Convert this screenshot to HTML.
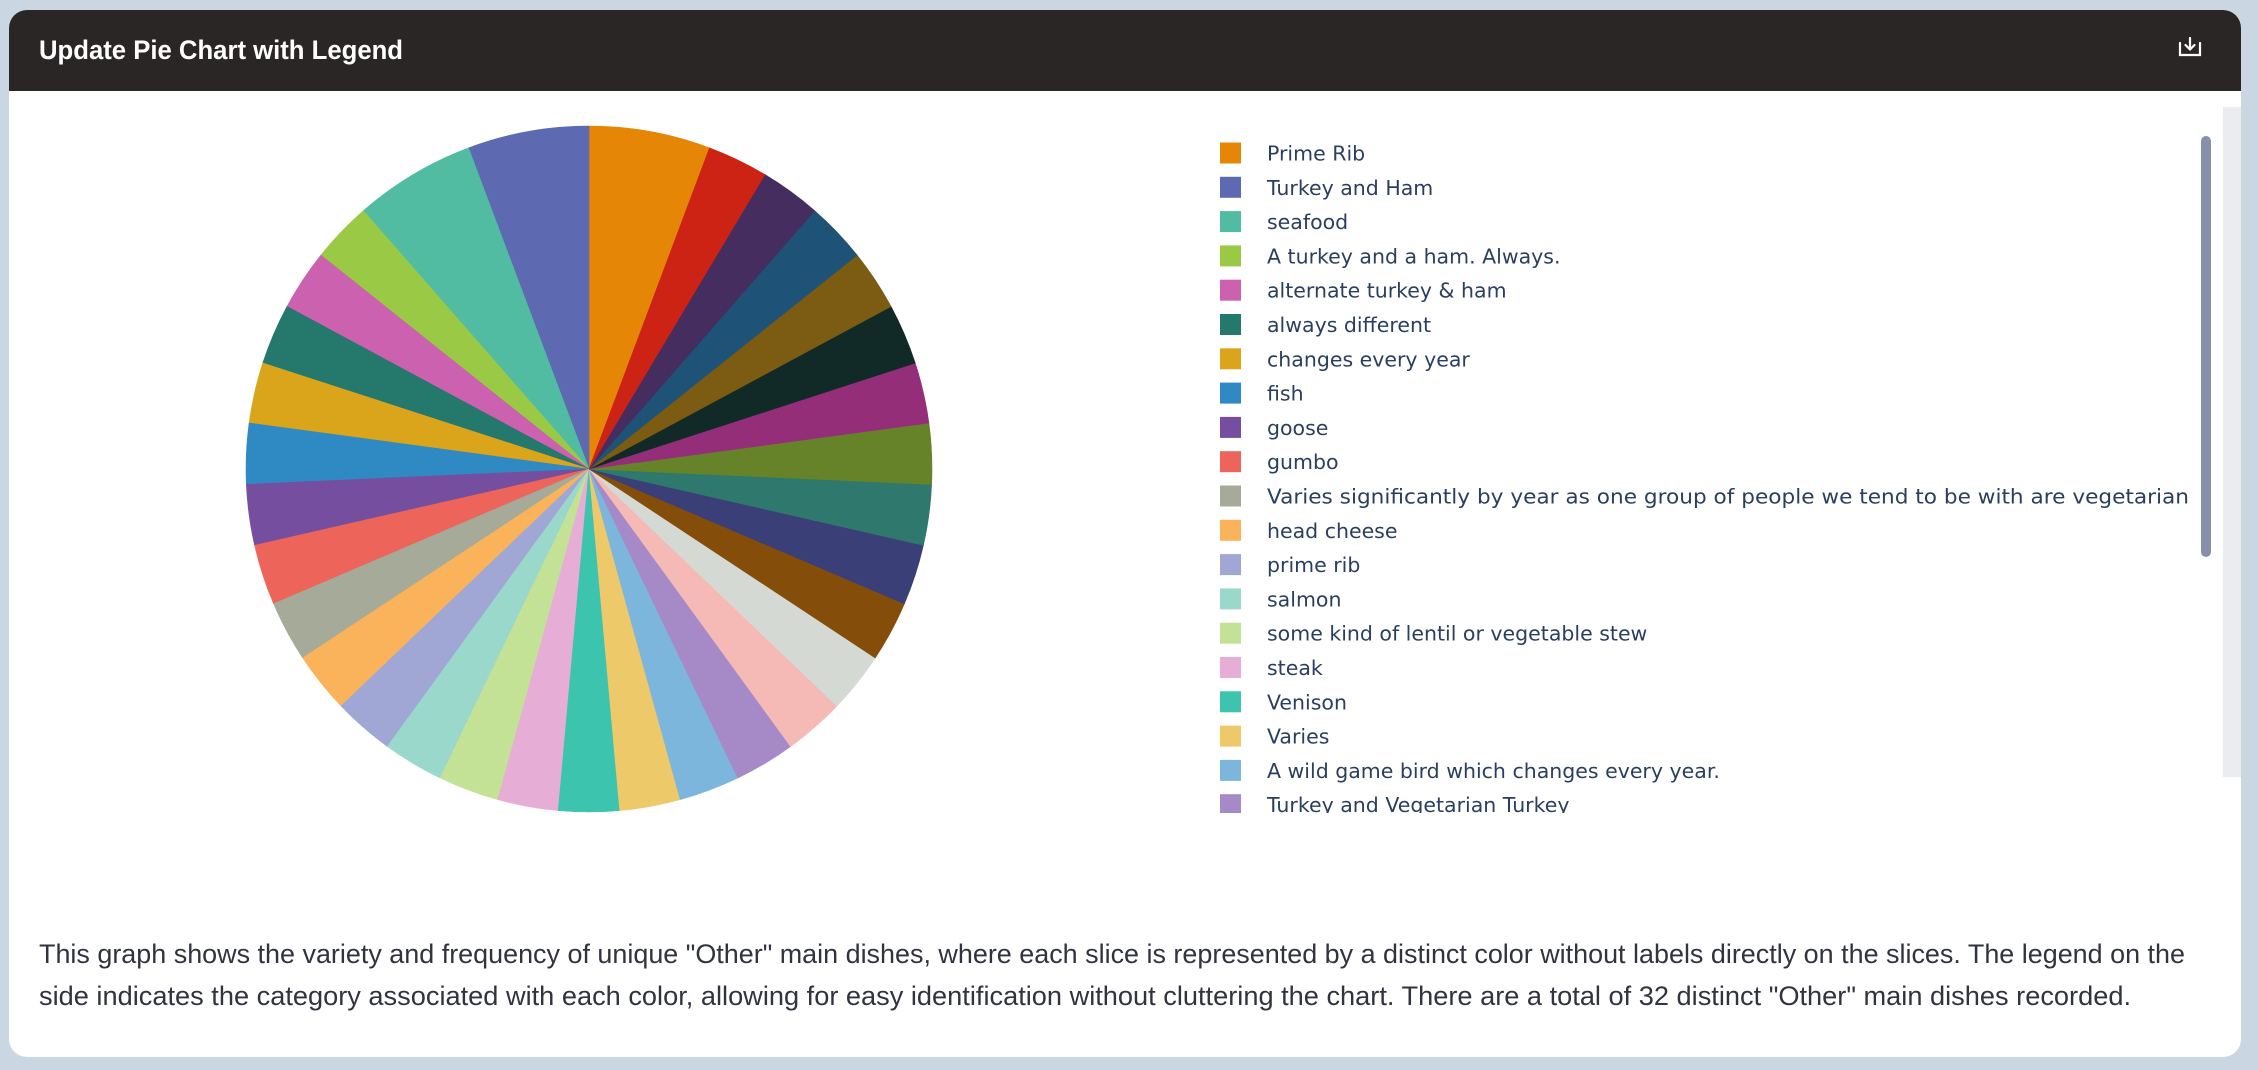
<!DOCTYPE html>
<html><head><meta charset="utf-8"><style>
html,body{margin:0;padding:0;background:#cbd6e3;width:2258px;height:1070px;overflow:hidden}
</style></head><body>
<svg width="2258" height="1070" xmlns="http://www.w3.org/2000/svg" style="position:absolute;left:0;top:0">
<defs><clipPath id="lc"><rect x="1200" y="120" width="1010" height="693"/></clipPath>
<clipPath id="card"><rect x="9" y="10" width="2232" height="1047" rx="18"/></clipPath></defs>
<g clip-path="url(#card)">
<rect x="9" y="10" width="2232" height="1047" fill="#ffffff"/>
<rect x="9" y="10" width="2232" height="81" fill="#2b2626"/>
</g>
<text x="39" y="59" fill="#ffffff" font-family="Liberation Sans, sans-serif" font-weight="bold" font-size="27" textLength="364" lengthAdjust="spacingAndGlyphs">Update Pie Chart with Legend</text>
<g stroke="#fff" stroke-width="2.2" fill="none" stroke-linecap="round">
<path d="M2180 43 v12 h20 v-12"/><path d="M2190 38 v11"/><path d="M2185.5 45 l4.5 4.5 l4.5 -4.5"/>
</g>
<rect x="2223" y="107" width="18" height="670" fill="#eaecef"/>
<rect x="2201" y="136" width="10" height="421" rx="5" fill="#8690a8"/>
<g id="pie"></g>
<g id="leg" clip-path="url(#lc)" font-family="DejaVu Sans, sans-serif" font-size="20.5" fill="#2a3f5f"></g>
<g font-family="Liberation Sans, sans-serif" font-size="27" fill="#31333f">
<text x="39" y="963" textLength="2146" lengthAdjust="spacingAndGlyphs">This graph shows the variety and frequency of unique "Other" main dishes, where each slice is represented by a distinct color without labels directly on the slices. The legend on the</text>
<text x="39" y="1005" textLength="2092" lengthAdjust="spacingAndGlyphs">side indicates the category associated with each color, allowing for easy identification without cluttering the chart. There are a total of 32 distinct "Other" main dishes recorded.</text>
</g>
</svg>
<script>
var items=[["Prime Rib","#E58606",2],["Turkey and Ham","#5D69B1",2],["seafood","#52BCA3",2],["A turkey and a ham. Always.","#99C945",1],["alternate turkey & ham","#CC61B0",1],["always different","#24796C",1],["changes every year","#DAA51B",1],["fish","#2F8AC4",1],["goose","#764E9F",1],["gumbo","#ED645A",1],["Varies significantly by year as one group of people we tend to be with are vegetarian","#A5AA99",1],["head cheese","#FAB35A",1],["prime rib","#A1A7D4",1],["salmon","#9AD8CB",1],["some kind of lentil or vegetable stew","#C4E295",1],["steak","#E6AED6",1],["Venison","#3CC4AE",1],["Varies","#EDC96A",1],["A wild game bird which changes every year.","#7DB6DD",1],["Turkey and Vegetarian Turkey","#A68AC7",1],["x","#F5B9B6",1],["x","#D5D9D3",1],["x","#854D0A",1],["x","#3A3F77",1],["x","#2F786D",1],["x","#668329",1],["x","#952E78",1],["x","#112A28",1],["x","#7C5B12",1],["x","#1E5277",1],["x","#462D5F",1],["x","#CC2314",1]];
var NS="http://www.w3.org/2000/svg",cx=589,cy=469,r=343,u=360/35;
var pie=document.getElementById("pie"),A=2*u;
function pt(a){var t=a*Math.PI/180;return (cx+r*Math.sin(t)).toFixed(2)+" "+(cy-r*Math.cos(t)).toFixed(2);}
items.forEach(function(it){var B=A-it[2]*u;var p=document.createElementNS(NS,"path");
p.setAttribute("d","M"+cx+" "+cy+" L"+pt(A)+" A"+r+" "+r+" 0 0 0 "+pt(B)+" Z");
p.setAttribute("fill",it[1]);p.setAttribute("stroke",it[1]);p.setAttribute("stroke-width","0.6");pie.appendChild(p);A=B;});
var leg=document.getElementById("leg");
items.slice(0,20).forEach(function(it,i){var y=153+i*34.3;
var s=document.createElementNS(NS,"rect");s.setAttribute("x",1220);s.setAttribute("y",y-10.5);s.setAttribute("width",21);s.setAttribute("height",21);s.setAttribute("fill",it[1]);leg.appendChild(s);
var t=document.createElementNS(NS,"text");t.setAttribute("x",1267);t.setAttribute("y",y+7.5);t.textContent=it[0];
if(i==10){t.setAttribute("textLength","922");t.setAttribute("lengthAdjust","spacingAndGlyphs");}
leg.appendChild(t);});
</script>
</body></html>
